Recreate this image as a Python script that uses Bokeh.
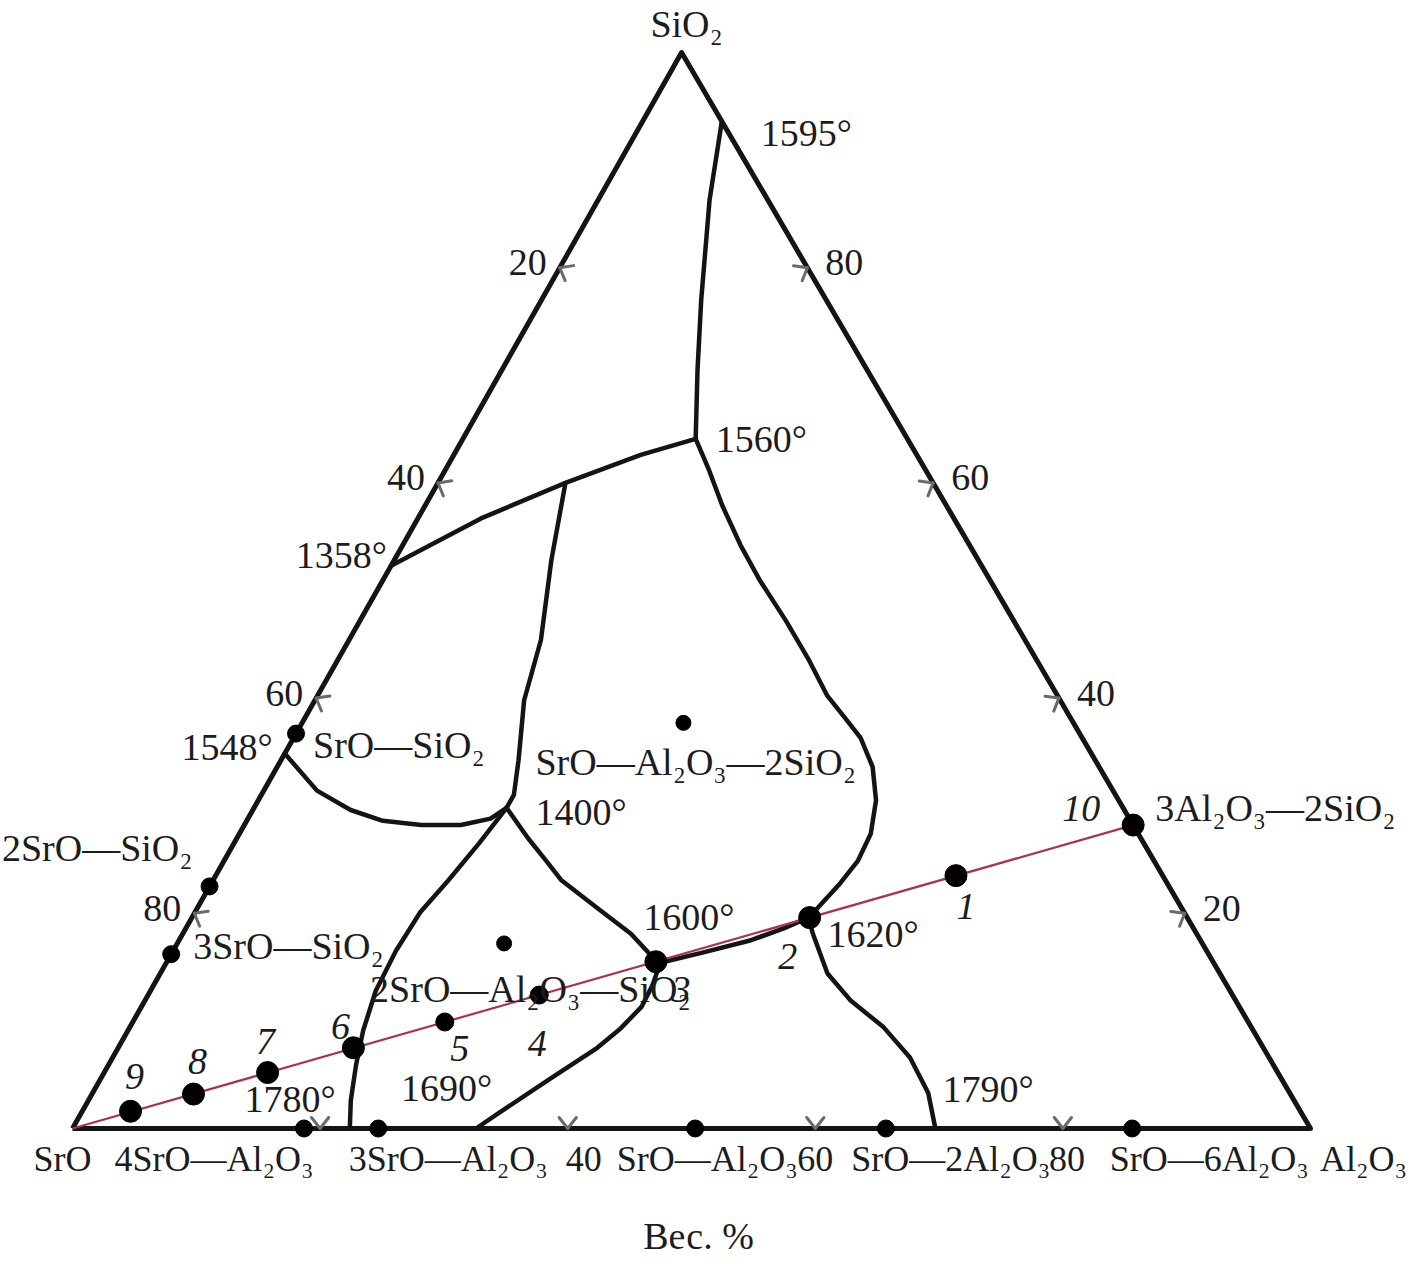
import numpy as np
from bokeh.plotting import figure
from bokeh.models import Range1d, ColumnDataSource
from bokeh.core.properties import value
from bokeh.embed import file_html
from bokeh.resources import INLINE

# ---------------- DATA (wt.%: Al2O3, SiO2; SrO = 100 - Al2O3 - SiO2) ----------------
# Boundary curves of the SrO-Al2O3-SiO2 diagram
curve_1595_1560_al = [6.4, 9.0, 12.9, 15.8, 18.8]
curve_1595_1560_si = [93.6, 86.3, 77.0, 70.5, 64.1]

curve_1560_1358_al = [18.8, 15.1, 10.3, 5.1, 0.0]
curve_1560_1358_si = [64.1, 62.6, 60.0, 56.7, 52.3]

curve_branch_1400_al = [10.3, 12.7, 15.5, 16.9, 19.2, 20.4, 20.4]
curve_branch_1400_si = [60.0, 52.8, 45.4, 39.8, 34.2, 31.0, 29.8]

curve_1548_1400_al = [0.0, 4.3, 7.9, 11.0, 14.3, 17.5, 19.6, 20.4]
curve_1548_1400_si = [34.85, 31.4, 29.6, 28.6, 28.2, 28.2, 28.8, 29.8]

curve_1400_1780_al = [20.4, 19.8, 19.0, 18.2, 18.0, 18.2, 19.0, 20.0, 21.2, 22.4]
curve_1400_1780_si = [29.8, 26.5, 23.0, 20.1, 16.5, 12.8, 9.1, 5.9, 2.6, 0.0]

curve_1400_1600_al = [20.4, 23.5, 26.0, 28.1, 32.3, 36.2, 38.8, 39.9]
curve_1400_1600_si = [29.8, 27.0, 24.9, 23.1, 20.5, 18.1, 16.1, 15.4]

curve_1600_1690_al = [39.9, 40.3, 40.4, 39.7, 38.7, 36.2, 33.7, 32.6]
curve_1600_1690_si = [15.4, 13.3, 11.3, 9.3, 7.5, 4.5, 1.4, 0.0]

curve_1600_1620_al = [39.9, 42.7, 46.2, 48.3, 49.8]
curve_1600_1620_si = [15.4, 16.3, 17.5, 18.6, 19.6]

curve_1560_1620_al = [18.8, 21.3, 24.0, 27.3, 30.5, 34.4, 38.1, 41.2, 43.7, 45.8,
                      48.1, 49.9, 51.0, 51.2, 50.8, 50.1, 49.8]
curve_1560_1620_si = [64.1, 61.2, 57.9, 54.2, 50.9, 47.2, 43.5, 40.2, 38.1, 36.3,
                      33.6, 30.5, 27.4, 24.9, 22.8, 20.5, 19.6]

curve_1620_1790_al = [49.8, 50.9, 53.9, 57.0, 60.9, 64.4, 67.5, 69.7]
curve_1620_1790_si = [19.6, 18.1, 14.4, 11.9, 9.4, 6.6, 3.3, 0.0]

# Invariant points (temperatures)
temp_labels = ["1595°", "1560°", "1358°", "1548°", "1400°", "1600°", "1620°", "1780°", "1690°", "1790°"]
temp_al = [6.4, 18.8, 0.0, 0.0, 20.4, 39.9, 49.8, 22.4, 32.6, 69.7]
temp_si = [93.6, 64.1, 52.3, 34.85, 29.8, 15.4, 19.6, 0.0, 0.0, 0.0]

# Compounds
cmp_side_names = ["SrO—SiO₂", "2SrO—SiO₂", "3SrO—SiO₂"]
cmp_side_al = [0.0, 0.0, 0.0]
cmp_side_si = [36.7, 22.5, 16.2]

cmp_base_names = ["4SrO—Al₂O₃", "3SrO—Al₂O₃", "SrO—Al₂O₃", "SrO—2Al₂O₃", "SrO—6Al₂O₃"]
cmp_base_al = [18.7, 24.7, 50.3, 65.7, 85.6]
cmp_base_si = [0.0, 0.0, 0.0, 0.0, 0.0]

cmp_inner_names = ["SrO—Al₂O₃—2SiO₂", "2SrO—Al₂O₃—SiO₂"]
cmp_inner_al = [30.8, 26.4]
cmp_inner_si = [37.7, 17.2]

mullite_name = "3Al₂O₃—2SiO₂"
mullite_al = 71.8
mullite_si = 28.2

# Studied compositions on the SrO - 3Al2O3·2SiO2 join
sample_ids = ["1", "2", "3", "4", "5", "6", "7", "8", "9", "10"]
sample_al = [59.8, 49.9, 39.5, 31.6, 25.2, 19.0, 13.2, 8.2, 3.9, 71.8]
sample_si = [23.5, 19.6, 15.5, 12.4, 9.9, 7.5, 5.2, 3.2, 1.6, 28.2]

# Scale ticks (wt.%)
tick_values = [20, 40, 60, 80]
vertex_names = ["SrO", "Al₂O₃", "SiO₂"]
axis_title = "Вес. %"

# ---------------- LAYOUT ----------------
SKEW = 0.492
W, H = 1410, 1258
X0, X1 = -5.816, 108.078
Y0, Y1 = -12.082, 104.833
SX = W / (X1 - X0)
SY = H / (Y1 - Y0)
FONT = value("Liberation Serif")
INK = "#141414"
TEXT_SHIFT = -14  # px, compensates baseline placement of svg text


def tx(al, si):
    return [a + SKEW * s for a, s in zip(al, si)]


p = figure(width=W, height=H, x_range=Range1d(X0, X1), y_range=Range1d(Y0, Y1),
           output_backend="svg", toolbar_location=None, min_border=0,
           x_axis_location=None, y_axis_location=None)
p.grid.grid_line_color = None
p.outline_line_color = None
p.background_fill_color = "white"
p.border_fill_color = "white"

# triangle
tri_al = [0, 100, 0, 0]
tri_si = [0, 0, 100, 0]
p.line(tx(tri_al, tri_si), tri_si, line_width=5, line_color=INK, line_join="round")


def inward(p1, p2, inside):
    ex, ey = (p2[0] - p1[0]) * SX, (p2[1] - p1[1]) * SY
    n = np.array([-ey, ex]) / np.hypot(ex, ey)
    cx, cy = (inside[0] - p1[0]) * SX, (inside[1] - p1[1]) * SY
    if n[0] * cx + n[1] * cy < 0:
        n = -n
    return n


def add_ticks(al, si, n):
    xs, ys = [], []
    L = 14.0
    for a, s in zip(al, si):
        x0 = a + SKEW * s
        for ang in (np.radians(38), np.radians(-38)):
            c, sn = np.cos(ang), np.sin(ang)
            dxp = n[0] * c - n[1] * sn
            dyp = n[0] * sn + n[1] * c
            xs.append([x0, x0 + L * dxp / SX])
            ys.append([s, s + L * dyp / SY])
    p.multi_line(xs, ys, line_width=3, line_color="#6a6a6a", line_cap="round")


vA = (0.0, 0.0); vB = (100.0, 0.0); vC = (100 * SKEW, 100.0); vG = (50.0, 33.3)
# left side SrO-SiO2 (labels = SrO %), right side Al2O3-SiO2 (labels = SiO2 %), base (labels = Al2O3 %)
add_ticks([0.0] * 4, [100 - t for t in tick_values], inward(vA, vC, vG))
add_ticks([100 - t for t in tick_values], tick_values, inward(vB, vC, vG))
add_ticks(tick_values, [0.0] * 4, inward(vA, vB, vG))

# boundary curves
curves = [
    (curve_1595_1560_al, curve_1595_1560_si),
    (curve_1560_1358_al, curve_1560_1358_si),
    (curve_branch_1400_al, curve_branch_1400_si),
    (curve_1548_1400_al, curve_1548_1400_si),
    (curve_1400_1780_al, curve_1400_1780_si),
    (curve_1400_1600_al, curve_1400_1600_si),
    (curve_1600_1690_al, curve_1600_1690_si),
    (curve_1600_1620_al, curve_1600_1620_si),
    (curve_1560_1620_al, curve_1560_1620_si),
    (curve_1620_1790_al, curve_1620_1790_si),
]
for al, si in curves:
    p.line(tx(al, si), si, line_width=4.5, line_color=INK, line_join="round", line_cap="round")

# join SrO -> 3Al2O3·2SiO2
p.line(tx([0.0, mullite_al], [0.0, mullite_si]), [0.0, mullite_si],
       line_width=2.2, line_color="#a8354c")

# compound dots
p.scatter(tx(cmp_side_al, cmp_side_si), cmp_side_si, size=17, color="black")
p.scatter(tx(cmp_base_al, cmp_base_si), cmp_base_si, size=17, color="black")
p.scatter(tx(cmp_inner_al, cmp_inner_si), cmp_inner_si, size=15, color="black")
# sample dots
big = [0, 1, 2, 5, 6, 7, 8, 9]
small = [3, 4]
p.scatter(tx([sample_al[i] for i in big], [sample_si[i] for i in big]),
          [sample_si[i] for i in big], size=22, color="black")
p.scatter(tx([sample_al[i] for i in small], [sample_si[i] for i in small]),
          [sample_si[i] for i in small], size=18, color="black")


def put(texts, al, si, dx, dy, align, size="38px", style="normal"):
    src = ColumnDataSource(dict(x=tx(al, si), y=list(si), t=list(texts), dx=list(dx),
                                dy=[d + TEXT_SHIFT for d in dy]))
    p.text(x="x", y="y", text="t", x_offset="dx", y_offset="dy", source=src,
           text_align=align, text_baseline="alphabetic", text_font=FONT,
           text_font_size=value(size), text_font_style=style, text_color="#1c1c1c")


# temperature labels
t_off = {"1595°": (39, 26, "left"), "1560°": (20, 14, "left"), "1358°": (-4, 3, "right"),
         "1548°": (-12, 7, "right"), "1400°": (29, 18, "left"), "1600°": (-17, -32, "left"),
         "1620°": (19, 30, "left"), "1780°": (-14, -15, "right"), "1690°": (-75, -26, "left"),
         "1790°": (7, -25, "left")}
for align in ("left", "right"):
    idx = [i for i, t in enumerate(temp_labels) if t_off[t][2] == align]
    put([temp_labels[i] for i in idx], [temp_al[i] for i in idx], [temp_si[i] for i in idx],
        [t_off[temp_labels[i]][0] for i in idx], [t_off[temp_labels[i]][1] for i in idx], align)

# compound labels
put([cmp_side_names[0], cmp_side_names[2]], [cmp_side_al[0], cmp_side_al[2]],
    [cmp_side_si[0], cmp_side_si[2]], [17, 22], [25, 6], "left")
put([cmp_side_names[1]], [cmp_side_al[1]], [cmp_side_si[1]], [-17], [-24], "right")
put(cmp_base_names, cmp_base_al, cmp_base_si, [-90, 70, 12, 65, 77], [45] * 5, "center", size="36px")
put(cmp_inner_names, cmp_inner_al, cmp_inner_si, [-148, -134], [53, 60], "left")
put([mullite_name], [mullite_al], [mullite_si], [22], [-3], "left")

# vertex labels
put(vertex_names[:2], [0.0, 100.0], [0.0, 0.0], [-10, 53], [45, 45], "center", size="36px")
put(vertex_names[2:], [0.0], [100.0], [5], [-15], "center")

# scale labels
put([str(t) for t in tick_values], [0.0] * 4, [100 - t for t in tick_values], [-13] * 4, [9] * 4, "right")
put([str(t) for t in tick_values], [100 - t for t in tick_values], tick_values, [18] * 4, [9] * 4, "left")
put([str(t) for t in tick_values[1:]], tick_values[1:], [0.0] * 3, [16, 0, 4], [45] * 3, "center",
    size="36px")

# axis title
put([axis_title], [50.0], [0.0], [7], [122], "center")

# sample numbers (italic)
s_dx = [10, -22, 25, -2, 15, -13, -2, 4, 4, -52]
s_dy = [45, 53, 42, 62, 41, -7, -17, -19, -21, -3]
put(sample_ids, sample_al, sample_si, s_dx, s_dy, "center", style="italic")

open("out.html", "w").write(file_html(p, INLINE))
